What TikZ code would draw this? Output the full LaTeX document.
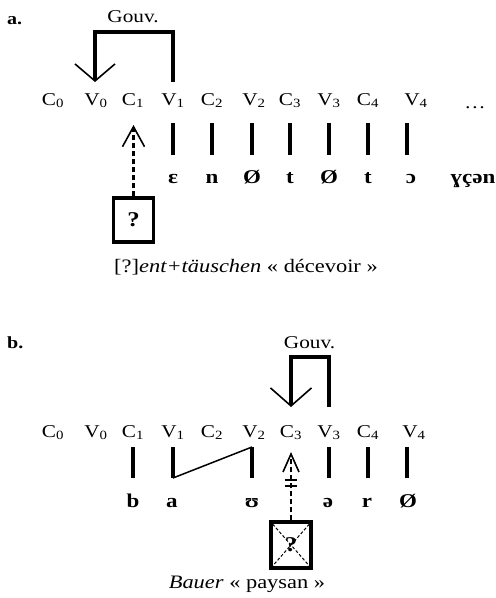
\documentclass[tikz,border=0pt]{standalone}
\usepackage{fontspec}
\setmainfont{Liberation Serif}[FakeStretch=1.18]
\usetikzlibrary{arrows.meta}
\begin{document}
\begin{tikzpicture}[x=1pt,y=-1pt,
  lab/.style={anchor=base,font=\fontsize{18}{20}\selectfont,inner sep=0pt},
  seg/.style={anchor=base,font=\fontsize{19.5}{22}\selectfont\bfseries,inner sep=0pt},
  captext/.style={anchor=base,font=\fontsize{19}{22}\selectfont,inner sep=0pt},
  tag/.style={anchor=base west,font=\fontsize{17}{20}\selectfont\bfseries,inner sep=0pt},
  assoc/.style={line width=3.2pt},
  gov/.style={line width=3.2pt,-{Straight Barb[length=17pt,width=40pt,line width=1.6pt]}},
  dline/.style={line width=2.2pt,dash pattern=on 5pt off 3pt},
  qbox/.style={draw,line width=3.2pt,minimum width=40pt,minimum height=44pt,inner sep=0pt,
    font=\fontsize{21}{24}\selectfont\bfseries},
  thinline/.style={line width=1.5pt}
]
\useasboundingbox (0,0) rectangle (496,598);
% ---------------- a ----------------
\node[tag] (taga) at (7,24) {a.};
\node[lab] (gouva) at (133,22.5) {Gouv.};
\foreach \n/\x/\t in {C0/53/C\textsubscript{0},V0/96/V\textsubscript{0},C1/133/C\textsubscript{1},
  V1/173/V\textsubscript{1},C2/212/C\textsubscript{2},V2/254/V\textsubscript{2},C3/290/C\textsubscript{3},
  V3/329/V\textsubscript{3},C4/368/C\textsubscript{4},V4/416/V\textsubscript{4}}
  \node[lab] (a\n) at (\x,105) {\t};
\node[lab] (adots) at (475,108) {\dots};
% segments
\foreach \n/\x/\t in {s1/173/ɛ,s2/212/n,s3/252/Ø,s4/290/t,s5/329/Ø,s6/368/t,s7/411/ɔ,s8/473/ɣçən}
  \node[seg] (a\n) at (\x,183) {\t};
% association lines
\foreach \x in {173,212,252,290,329,368,407}{
  \coordinate (at\x) at (\x,123);
  \coordinate (ab\x) at (\x,155);
  \draw[assoc] (at\x) -- (ab\x);
}
% government
\coordinate (agovfrom) at (173,82);
\coordinate (agovto) at (95,82);
\draw[gov] (agovfrom) -- ++(0,-50) -| (agovto);
% empty box
\node[qbox] (boxa) at (133.5,220) {?};
\coordinate (atipa) at (133.5,125);
\draw[dline,-{Straight Barb[length=20pt,width=22pt,line width=1.6pt]}] (boxa.north) -- (atipa);
\node[captext] (capa) at (246,272) {[?]\textit{ent+täuschen} « décevoir »};
% ---------------- b ----------------
\node[tag] (tagb) at (7,348) {b.};
\node[lab] (gouvb) at (309.5,348) {Gouv.};
\foreach \n/\x/\t in {C0/53/C\textsubscript{0},V0/96/V\textsubscript{0},C1/133/C\textsubscript{1},
  V1/173/V\textsubscript{1},C2/212/C\textsubscript{2},V2/254/V\textsubscript{2},C3/291/C\textsubscript{3},
  V3/329/V\textsubscript{3},C4/368/C\textsubscript{4},V4/414/V\textsubscript{4}}
  \node[lab] (b\n) at (\x,437) {\t};
\foreach \n/\x/\t in {s1/133/b,s2/172/a,s3/252/ʊ,s4/328/ə,s5/367/r,s6/408/Ø}
  \node[seg] (b\n) at (\x,507) {\t};
\foreach \x in {133,173,252,329,368,407}{
  \coordinate (bt\x) at (\x,447);
  \coordinate (bb\x) at (\x,478);
  \draw[assoc] (bt\x) -- (bb\x);
}
\draw[thinline] (bb173) -- (bt252);
\coordinate (bgovfrom) at (329,407);
\coordinate (bgovto) at (291,407);
\draw[gov,-{Straight Barb[length=18pt,width=41pt,line width=1.6pt]}] (bgovfrom) -- ++(0,-50) -| (bgovto);
\node[qbox,minimum height=46pt] (boxb) at (291,545) {?};
\draw[line width=1pt,dash pattern=on 3pt off 2pt] (boxb.north west) -- (boxb.south east);
\draw[line width=1pt,dash pattern=on 3pt off 2pt] (boxb.north east) -- (boxb.south west);
\coordinate (btipb) at (291,452);
\draw[dline,-{Straight Barb[length=18pt,width=16pt,line width=1.6pt]}] (boxb.north) -- (btipb);
\draw[line width=1.3pt] (285,480) -- (297,480) (285,486) -- (297,486);
\node[captext] (capb) at (247,588) {\textit{Bauer} « paysan »};
\end{tikzpicture}
\end{document}
